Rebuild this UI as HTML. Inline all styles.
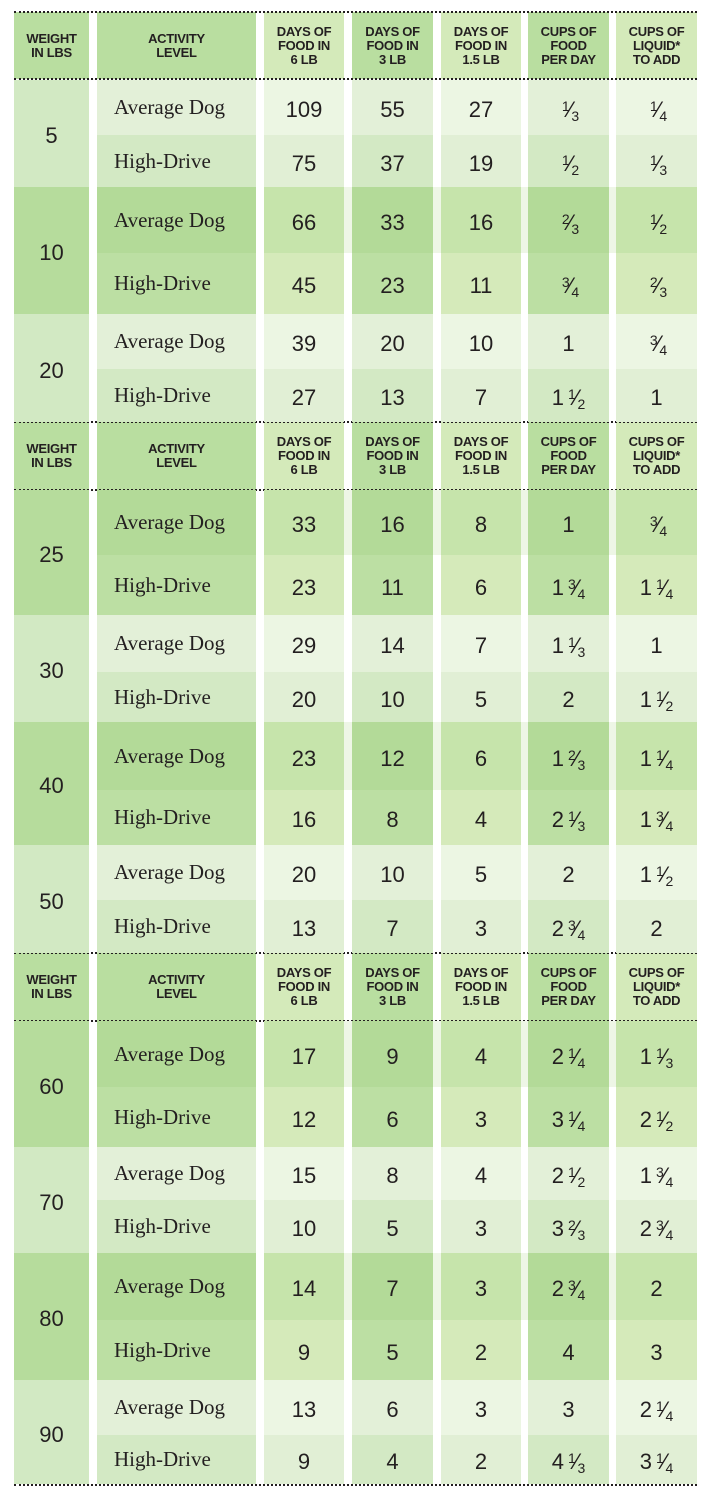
<!DOCTYPE html>
<html><head><meta charset="utf-8">
<style>
html,body{margin:0;padding:0;background:#fff;}
#t{position:relative;width:708px;height:1495px;overflow:hidden;background:#fff;font-family:"Liberation Sans",sans-serif;color:#231f20;}
.c{position:absolute;display:flex;align-items:center;justify-content:center;box-sizing:border-box;}
.h{font-weight:bold;font-size:13px;line-height:14px;text-align:center;letter-spacing:-0.3px;}
.n{font-size:22px;padding-top:5px;}
.a{font-family:"Liberation Serif",serif;font-size:21px;justify-content:flex-start;padding-left:17px;}
.f{font-size:14px;position:relative;top:-6px;}
.d{font-size:14px;position:relative;top:4px;}
.sl{font-size:22px;margin:0 -1px;}
.dot{position:absolute;left:14px;width:683px;height:0;border-top:2px dotted #231f20;}
</style></head><body>
<div id="t"></div>
<script>
// Data
const weights=[5,10,20,25,30,40,50,60,70,80,90];
const days6=[[109,75],[66,45],[39,27],[33,23],[29,20],[23,16],[20,13],[17,12],[15,10],[14,9],[13,9]];
const days3=[[55,37],[33,23],[20,13],[16,11],[14,10],[12,8],[10,7],[9,6],[8,5],[7,5],[6,4]];
const days15=[[27,19],[16,11],[10,7],[8,6],[7,5],[6,4],[5,3],[4,3],[4,3],[3,2],[3,2]];
const cupsFood=[["1/3","1/2"],["2/3","3/4"],["1","1 1/2"],["1","1 3/4"],["1 1/3","2"],["1 2/3","2 1/3"],["2","2 3/4"],["2 1/4","3 1/4"],["2 1/2","3 2/3"],["2 3/4","4"],["3","4 1/3"]];
const cupsLiquid=[["1/4","1/3"],["1/2","2/3"],["3/4","1"],["3/4","1 1/4"],["1","1 1/2"],["1 1/4","1 3/4"],["1 1/2","2"],["1 1/3","2 1/2"],["1 3/4","2 3/4"],["2","3"],["2 1/4","3 1/4"]];
const headers=["WEIGHT<br>IN LBS","ACTIVITY<br>LEVEL","DAYS OF<br>FOOD IN<br>6 LB","DAYS OF<br>FOOD IN<br>3 LB","DAYS OF<br>FOOD IN<br>1.5 LB","CUPS OF<br>FOOD<br>PER DAY","CUPS OF<br>LIQUID*<br>TO ADD"];
const colNames=["weight","activity","days-6lb","days-3lb","days-1-5lb","cups-food","cups-liquid"];

// layout
const cols=[[14,89],[97,256],[264,344],[352,433],[441,521],[528,609],[616,697]];
const headerY=[[12,79],[422,490],[953,1021]];
const groupY=[[80,135,187],[187,253,314],[314,369,422],[490,555,615],[615,672,722],[722,790,845],[845,900,953],[1021,1087,1147],[1147,1200,1253],[1253,1320,1380],[1380,1435,1484]];
const dark=[false,true,false,true,false,true,false,true,false,true,false];
const colA=[true,true,false,true,false,true,false];
const T=document.getElementById('t');
function cell(x0,x1,y0,y1,bg,cls,html){
  const d=document.createElement('div');
  d.className='c '+cls;
  d.style.left=x0+'px';d.style.top=y0+'px';d.style.width=(x1-x0)+'px';d.style.height=(y1-y0)+'px';
  d.style.background=bg;d.innerHTML=html;T.appendChild(d);return d;
}
function frac(s){
  s=String(s);
  return s.split(' ').map(p=>{
    if(p.indexOf('/')<0) return p;
    const [a,b]=p.split('/');
    return '<span style="margin-left:4px"><span class="f">'+a+'</span><span class="sl">⁄</span><span class="d">'+b+'</span></span>';
  }).join('');
}
headerY.forEach(([y0,y1],hi)=>{
  cols.forEach(([x0,x1],ci)=>{
    const d=cell(x0,x1,y0,y1,colA[ci]?'#b9dea0':'#d4eaba','h',headers[ci]);
    
    
  });
  [y0,y1].forEach(y=>{const l=document.createElement('div');l.className='dot';l.style.top=(y-1)+'px';
    
    
    T.appendChild(l);});
});
const pal={dark:{w:'#b6dc9c',a:['#b3da98','#bcdfa3'],b:['#c6e4ab','#d5eaba'],gap:['#eef6e6','#ffffff']},
           light:{w:'#d2e9c3',a:['#e3f0d8','#d3e9c4'],b:['#ecf6e3','#e1efd5'],gap:['#ffffff','#ffffff']}};
weights.forEach((w,g)=>{
  const [y0,ym,y1]=groupY[g];const p=dark[g]?pal.dark:pal.light;
  const gp=document.createElement('div');gp.style.cssText='position:absolute;left:264px;width:433px;top:'+y0+'px;height:'+(ym-y0)+'px;background:'+p.gap[0];T.appendChild(gp);
  let d=cell(14,89,y0,y1,p.w,'n',String(w));
  
  
  [[y0,ym],[ym,y1]].forEach(([r0,r1],r)=>{
    const vals=[null,r?'High-Drive':'Average Dog',days6[g][r],days3[g][r],days15[g][r],cupsFood[g][r],cupsLiquid[g][r]];
    for(let ci=1;ci<7;ci++){
      const bg=colA[ci]?p.a[r]:p.b[r];
      const c=cell(cols[ci][0],cols[ci][1],r0,r1,bg,ci==1?'a':'n',ci==1?vals[ci]:frac(vals[ci]));
      
      
    }
  });
});
const b=document.createElement('div');b.className='dot';b.style.top='1484px';


T.appendChild(b);
</script>
</body></html>
